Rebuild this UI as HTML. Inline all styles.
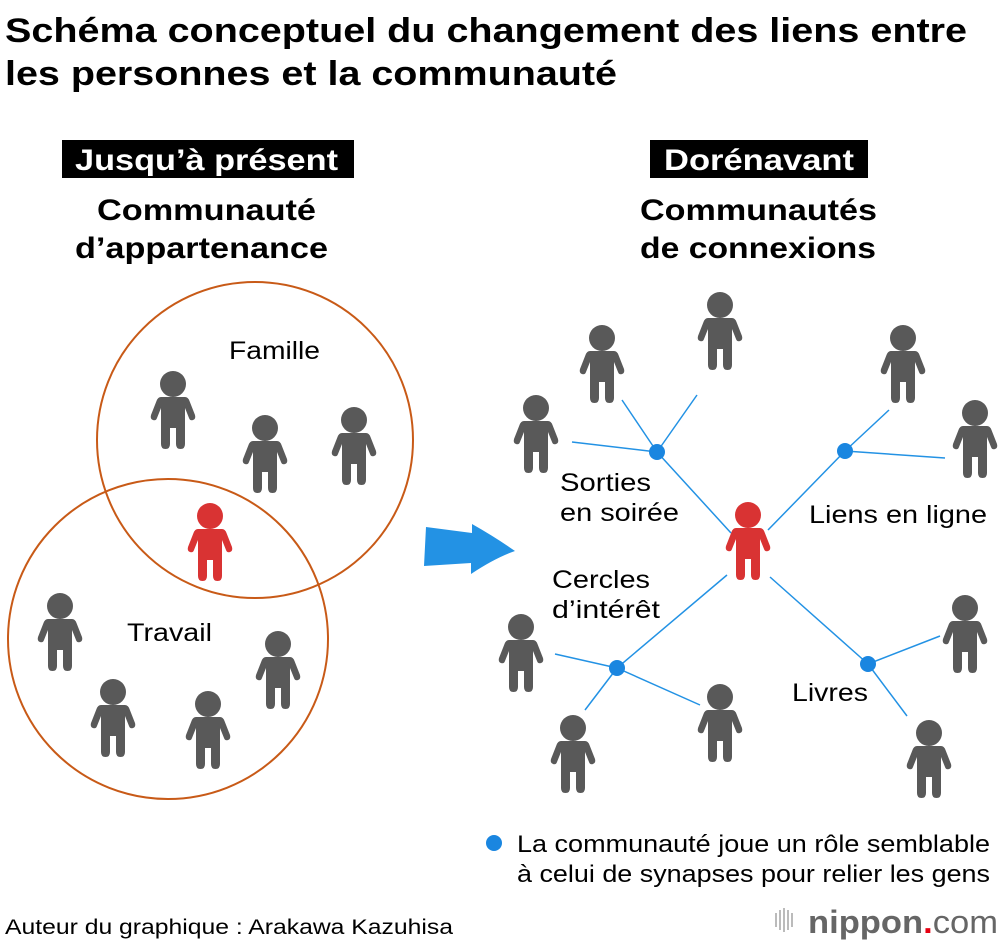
<!DOCTYPE html>
<html><head><meta charset="utf-8"><style>
html,body{margin:0;padding:0;background:#fff}
svg{display:block}
text{font-family:"Liberation Sans",Arial,sans-serif}
</style></head><body>
<svg width="1000" height="946" viewBox="0 0 1000 946" xmlns="http://www.w3.org/2000/svg">
<defs>
<g id="p">
<circle cx="0" cy="0" r="13"/>
<path d="M-12,13 H12 Q15,13 16.5,17 L22,31 Q23,35 20,36 Q17,37 16,34 L12,24 V60 Q12,65 7.5,65 Q3,65 3,60 V44 H-3 V60 Q-3,65 -7.5,65 Q-12,65 -12,60 V24 L-16,34 Q-17,37 -20,36 Q-23,35 -22,31 L-16.5,17 Q-15,13 -12,13Z"/>
</g>
</defs>
<text x="5" y="42" font-size="34" font-weight="bold" textLength="962" lengthAdjust="spacingAndGlyphs">Schéma conceptuel du changement des liens entre</text>
<text x="5" y="85" font-size="34" font-weight="bold" textLength="612" lengthAdjust="spacingAndGlyphs">les personnes et la communauté</text>

<rect x="62" y="140" width="292" height="38" fill="#000"/>
<text x="75" y="170" font-size="30" font-weight="bold" fill="#fff" textLength="263" lengthAdjust="spacingAndGlyphs">Jusqu’à présent</text>
<rect x="650" y="140" width="218" height="38" fill="#000"/>
<text x="664" y="170" font-size="30" font-weight="bold" fill="#fff" textLength="190" lengthAdjust="spacingAndGlyphs">Dorénavant</text>

<text x="97" y="220" font-size="30" font-weight="bold" textLength="219" lengthAdjust="spacingAndGlyphs">Communauté</text>
<text x="75" y="258" font-size="30" font-weight="bold" textLength="253" lengthAdjust="spacingAndGlyphs">d’appartenance</text>
<text x="640" y="220" font-size="30" font-weight="bold" textLength="237" lengthAdjust="spacingAndGlyphs">Communautés</text>
<text x="640" y="258" font-size="30" font-weight="bold" textLength="236" lengthAdjust="spacingAndGlyphs">de connexions</text>

<circle cx="255" cy="440" r="158" fill="none" stroke="#c85a17" stroke-width="2"/>
<circle cx="168" cy="639" r="160" fill="none" stroke="#c85a17" stroke-width="2"/>
<text x="229" y="359" font-size="25" textLength="91" lengthAdjust="spacingAndGlyphs">Famille</text>
<text x="127" y="641" font-size="25" textLength="85" lengthAdjust="spacingAndGlyphs">Travail</text>

<g fill="#595959">
<use href="#p" x="173" y="384"/><use href="#p" x="265" y="428"/><use href="#p" x="354" y="420"/>
<use href="#p" x="60" y="606"/><use href="#p" x="113" y="692"/><use href="#p" x="208" y="704"/><use href="#p" x="278" y="644"/>
<use href="#p" x="602" y="338"/><use href="#p" x="720" y="305"/><use href="#p" x="536" y="408"/><use href="#p" x="903" y="338"/><use href="#p" x="975" y="413"/>
<use href="#p" x="965" y="608"/><use href="#p" x="521" y="627"/><use href="#p" x="573" y="728"/><use href="#p" x="720" y="697"/><use href="#p" x="929" y="733"/>
</g>
<g fill="#d93333">
<use href="#p" x="210" y="516"/><use href="#p" x="748" y="515"/>
</g>

<path d="M426,527 L472,533 L472,524 Q495,537 515,551 Q495,558 471,574 L471,563 L424,566Z" fill="#2392e4"/>

<g stroke="#2392e4" stroke-width="1.5" fill="none">
<path d="M657,452 L731,533 M657,452 L572,442 M657,452 L697,395 M657,452 L622,400"/>
<path d="M845,451 L768,530 M845,451 L945,458 M845,451 L889,410"/>
<path d="M617,668 L727,575 M617,668 L555,654 M617,668 L585,710 M617,668 L700,705"/>
<path d="M868,664 L770,577 M868,664 L940,636 M868,664 L907,716"/>
</g>
<g fill="#1a86e0">
<circle cx="657" cy="452" r="8"/><circle cx="845" cy="451" r="8"/><circle cx="617" cy="668" r="8"/><circle cx="868" cy="664" r="8"/>
<circle cx="494" cy="843" r="8"/>
</g>
<g font-size="25">
<text x="560" y="491" textLength="91" lengthAdjust="spacingAndGlyphs">Sorties</text>
<text x="560" y="521" textLength="119" lengthAdjust="spacingAndGlyphs">en soirée</text>
<text x="809" y="523" textLength="178" lengthAdjust="spacingAndGlyphs">Liens en ligne</text>
<text x="552" y="588" textLength="98" lengthAdjust="spacingAndGlyphs">Cercles</text>
<text x="552" y="618" textLength="108" lengthAdjust="spacingAndGlyphs">d’intérêt</text>
<text x="792" y="701" textLength="76" lengthAdjust="spacingAndGlyphs">Livres</text>
<text x="517" y="852" font-size="24" textLength="473" lengthAdjust="spacingAndGlyphs">La communauté joue un rôle semblable</text>
<text x="517" y="882" font-size="24" textLength="473" lengthAdjust="spacingAndGlyphs">à celui de synapses pour relier les gens</text>
</g>
<text x="5" y="934" font-size="21" textLength="448" lengthAdjust="spacingAndGlyphs">Auteur du graphique : Arakawa Kazuhisa</text>
<g fill="#bbb">
<rect x="775" y="913" width="2" height="14"/><rect x="779" y="910" width="2" height="20"/><rect x="783" y="908" width="2" height="24"/><rect x="787" y="910" width="2" height="20"/><rect x="791" y="913" width="2" height="14"/>
</g>
<text x="808" y="933" font-size="32" fill="#666" font-weight="bold" textLength="190" lengthAdjust="spacingAndGlyphs">nippon<tspan fill="#e60012">.</tspan><tspan font-weight="normal">com</tspan></text>
</svg>
</body></html>
